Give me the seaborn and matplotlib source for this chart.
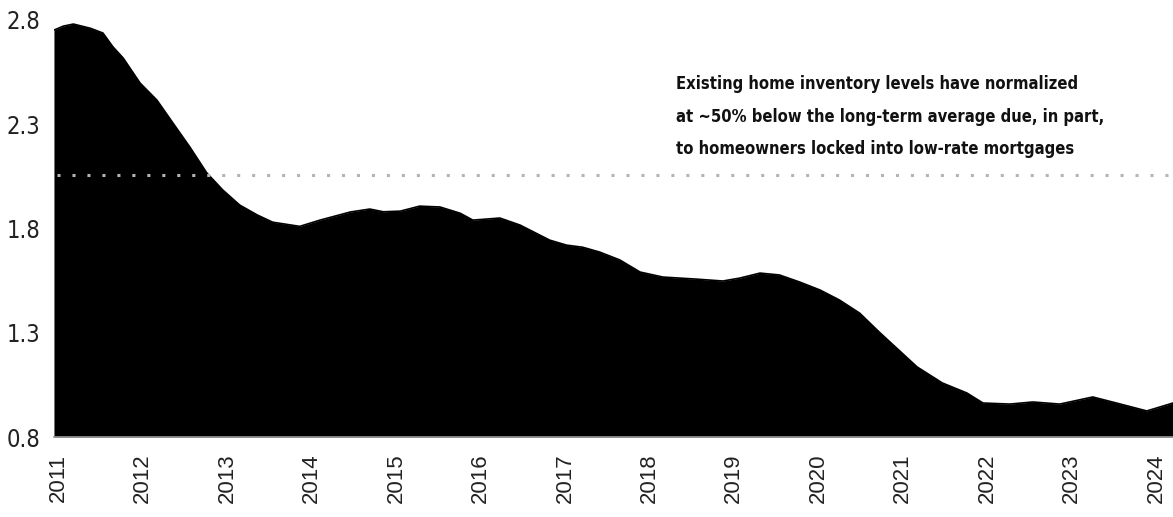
import matplotlib
matplotlib.use("Agg")
import matplotlib.pyplot as plt
from matplotlib import font_manager
from matplotlib.font_manager import FontProperties
import seaborn as sns
import pandas as pd

# Months of existing-home inventory (years as decimals)
years = [2010.95, 2011.06, 2011.18, 2011.38, 2011.53, 2011.65, 2011.77, 2011.97,
         2012.17, 2012.36, 2012.56, 2012.76, 2012.95, 2013.15, 2013.36, 2013.54,
         2013.86, 2014.10, 2014.46, 2014.69, 2014.85, 2015.05, 2015.28, 2015.52,
         2015.76, 2015.91, 2016.23, 2016.47, 2016.82, 2017.02, 2017.21, 2017.41,
         2017.65, 2017.89, 2018.16, 2018.56, 2018.87, 2019.07, 2019.31, 2019.54,
         2019.78, 2020.02, 2020.25, 2020.49, 2020.73, 2021.17, 2021.47, 2021.76,
         2021.95, 2022.27, 2022.54, 2022.86, 2023.25, 2023.53, 2023.89, 2024.20]
inventory = [2.751, 2.77, 2.78, 2.76, 2.737, 2.67, 2.617, 2.497,
             2.415, 2.305, 2.19, 2.066, 1.984, 1.912, 1.864, 1.83,
             1.81, 1.84, 1.879, 1.893, 1.88, 1.883, 1.907, 1.903,
             1.873, 1.84, 1.85, 1.816, 1.744, 1.72, 1.71, 1.687,
             1.649, 1.591, 1.567, 1.557, 1.548, 1.562, 1.586, 1.577,
             1.543, 1.505, 1.457, 1.394, 1.30, 1.136, 1.059, 1.011,
             0.963, 0.958, 0.968, 0.958, 0.992, 0.963, 0.925, 0.963]
long_term_avg = 2.055

y_ticks = [0.8, 1.3, 1.8, 2.3, 2.8]
y_tick_labels = ["0.8", "1.3", "1.8", "2.3", "2.8"]
x_ticks = list(range(2011, 2025))
x_tick_labels = [str(y) for y in x_ticks]

note_lines = ["Existing home inventory levels have normalized",
              "at ~50% below the long-term average due, in part,",
              "to homeowners locked into low-rate mortgages"]

sns.set_theme(style="white")
plt.rcParams["font.family"] = ["Liberation Sans", "DejaVu Sans"]


def find_face(keys):
    """Return the file of the first installed face whose file name has one of keys."""
    files = [f.fname for f in font_manager.fontManager.ttflist]
    for key in keys:
        for fn in files:
            if key.lower() in fn.lower().replace(" ", ""):
                return fn
    return None


bold_file = find_face(["LiberationSansNarrow-Bold.", "DejaVuSansCondensed-Bold.",
                       "RobotoCondensed-Bold", "OpenSans_Condensed-Bold",
                       "OpenSansCondensed-Bold"])
reg_file = find_face(["LiberationSansNarrow-Regular.", "DejaVuSansCondensed.",
                      "RobotoCondensed-Regular"])


def props(path, size, weight="normal"):
    if path:
        return FontProperties(fname=path, size=size)
    return FontProperties(family=["Liberation Sans", "DejaVu Sans"], size=size, weight=weight)


df = pd.DataFrame({"year": years, "inventory": inventory})

fig = plt.figure(figsize=(11.73, 5.17), dpi=100)
ax = fig.add_axes([0.046, 0.1547, 0.954, 0.827])

ax.fill_between(df["year"], 0.8, df["inventory"], color="black", linewidth=0)
sns.lineplot(data=df, x="year", y="inventory", ax=ax, color="black", linewidth=1.2)

ax.axhline(long_term_avg, xmin=0.003, color="#b4b4b4", linewidth=2.2,
           linestyle=(0, (1, 3.9)))

ax.set_xlim(years[0], years[-1])
ax.set_ylim(0.8, 2.85)
ax.set_xticks(x_ticks)
ax.set_xticklabels(x_tick_labels, rotation=90, fontsize=16, color="#222222")
ax.set_yticks(y_ticks)
ax.set_yticklabels(y_tick_labels, color="#222222")
for lab in ax.get_yticklabels():
    lab.set_fontproperties(props(reg_file, 17))
ax.tick_params(axis="x", length=0, pad=12)
ax.tick_params(axis="y", length=0, pad=10)
ax.set_xlabel("")
ax.set_ylabel("")

for side in ("top", "right", "left"):
    ax.spines[side].set_visible(False)
ax.spines["bottom"].set_color("#999999")
ax.spines["bottom"].set_linewidth(1.2)

# Annotation: one text per line, sized so the longest line spans about 430 px
renderer = fig.canvas.get_renderer()
size = 16.0
probe = fig.text(0, 0, note_lines[1], fontproperties=props(bold_file, size, "bold"))
w = probe.get_window_extent(renderer).width
probe.remove()
size = min(size * 430.0 / w, 17.0)

line_centers = [82, 115, 147]
for line, yc in zip(note_lines, line_centers):
    fig.text(676 / 1173, 1 - yc / 517, line, ha="left", va="center_baseline",
             color="#111111", fontproperties=props(bold_file, size, "bold"))

fig.savefig("out.png", dpi=100)
